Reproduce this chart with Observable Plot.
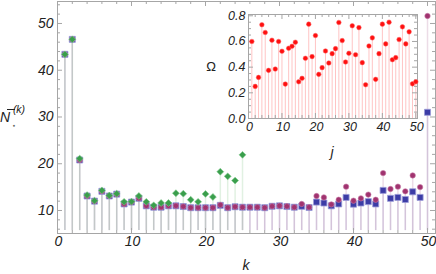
<!DOCTYPE html>
<html><head><meta charset="utf-8">
<script src="https://cdn.jsdelivr.net/npm/d3@7"></script>
<script src="https://cdn.jsdelivr.net/npm/@observablehq/plot@0.6"></script>
<style>
body{margin:0;background:#fff;}
#wrap{position:relative;width:436px;height:274px;}
#wrap svg{position:absolute;left:0;top:0;}
</style></head><body><div id="wrap"></div>
<script>
// ---- data ----
const kValues = d3.range(1, 51);
const blueValues = [43.4,46.6,20.8,13.1,12.0,14.1,13.1,13.5,11.4,11.8,12.6,11.0,10.7,10.7,11.0,11.0,10.85,10.6,10.6,10.6,10.6,11.1,10.6,10.8,10.7,10.7,10.7,10.6,10.9,11.0,10.85,10.7,10.9,10.64,11.8,11.6,11.0,11.4,12.8,11.35,11.6,11.9,11.4,14.3,12.6,12.8,12.35,14.0,12.8,31.0];
const purpleValues = [43.4,46.6,20.8,13.1,12.0,14.1,13.1,13.5,11.4,11.8,12.6,11.0,10.7,10.7,11.0,11.0,10.85,10.6,10.6,10.6,10.6,11.2,10.6,10.8,10.7,10.7,10.7,10.6,10.9,11.0,10.9,10.7,11.4,10.7,13.1,12.8,11.3,12.3,15.1,12.1,12.6,13.4,12.3,18.0,14.6,15.1,14.1,17.5,15.0,51.6];
const greenValues = [43.4,46.6,21.1,13.3,12.1,14.3,13.2,13.6,11.85,11.9,13.1,11.85,11.1,11.6,11.6,13.7,13.6,12.3,11.85,13.55,12.9,18.3,17.3,16.4,21.9];
const jValues = d3.range(1, 51);
const omegaValues = [0.60,0.25,0.32,0.73,0.67,0.375,0.61,0.385,0.60,0.524,
  0.268,0.547,0.563,0.594,0.286,0.313,0.469,0.735,0.482,0.646,
  0.344,0.396,0.526,0.432,0.505,0.544,0.748,0.607,0.44,0.508,
  0.722,0.497,0.708,0.435,0.263,0.565,0.628,0.305,0.505,0.735,
  0.581,0.75,0.458,0.474,0.615,0.714,0.581,0.675,0.27,0.286];
const mainXTicks = [0,10,20,30,40,50];
const mainYTicks = [10,20,30,40,50];
const insetXTicks = [0,10,20,30,40,50];
const insetYTicks = [0,0.2,0.4,0.6,0.8];

// ---- tables ----
const blueData = kValues.map((k,i)=>({k, v: blueValues[i]}));
const purpleData = kValues.map((k,i)=>({k, v: purpleValues[i]}));
const greenData = greenValues.map((v,i)=>({k: kValues[i], v}));
const omegaData = jValues.map((j,i)=>({j, o: omegaValues[i]}));

const FONT = "Liberation Sans, Arial, sans-serif";
const frameColor = "#a6a6a6";
const yMin = 5.08, yMax = 54.7, xMax = 51.08, base = 5.7;
const uy = (yMax - yMin) / 232, ux = xMax / 378; // data units per px

const xMinor = d3.range(0, 52, 2), yMinor = d3.range(6, 55, 2);
function frameTicks(xs, ys, xMaj, yMaj, x0, x1, y0, y1, ux, uy) {
  const L = 5, S = 3;
  const len = (maj, v) => maj.some(m => Math.abs(m - v) < 1e-9) ? L : S;
  return [
    Plot.ruleX(xs, {x: d=>d, y1: y0, y2: d=>y0 + len(xMaj,d)*uy, stroke: frameColor}),
    Plot.ruleX(xs, {x: d=>d, y1: y1, y2: d=>y1 - len(xMaj,d)*uy, stroke: frameColor}),
    Plot.ruleY(ys, {y: d=>d, x1: x0, x2: d=>x0 + len(yMaj,d)*ux, stroke: frameColor}),
    Plot.ruleY(ys, {y: d=>d, x1: x1, x2: d=>x1 - len(yMaj,d)*ux, stroke: frameColor})
  ];
}

const main = Plot.plot({
  width: 436, height: 274,
  marginLeft: 57, marginRight: 1, marginTop: 1, marginBottom: 41,
  x: {domain: [0, xMax]},
  y: {domain: [yMin, yMax]},
  style: {background: "transparent", overflow: "visible"},
  marks: [
    Plot.ruleX(blueData, {x: "k", y1: base, y2: "v", stroke: "#8e8ec4", strokeOpacity: 0.3, strokeWidth: 1.5}),
    Plot.ruleX(purpleData, {x: "k", y1: base, y2: "v", stroke: "#c08ab0", strokeOpacity: 0.3, strokeWidth: 1.5}),
    Plot.ruleX(greenData, {x: "k", y1: base, y2: "v", stroke: "#9ad0a0", strokeOpacity: 0.3, strokeWidth: 1.5}),
    Plot.frame({stroke: frameColor}),
    ...frameTicks(xMinor, yMinor, mainXTicks, mainYTicks, 0, xMax, yMin, yMax, ux, uy),
    Plot.axisX({ticks: mainXTicks, tickSize: 0, tickPadding: 3, dx: 1, label: null,
      fontSize: 14, fontStyle: "italic", fontFamily: FONT, color: "#222"}),
    Plot.axisY({ticks: mainYTicks, tickSize: 0, tickPadding: 4, label: null,
      fontSize: 14, fontStyle: "italic", fontFamily: FONT, color: "#222"}),
    Plot.dot(blueData, {x: "k", y: "v", symbol: "square", r: 3.4, fill: "#3c3ca6", stroke: "#9a9ad8", strokeWidth: 0.8}),
    Plot.dot(purpleData, {x: "k", y: "v", symbol: "circle", r: 2.7, fill: "#a0336f", stroke: "#c77aa6", strokeWidth: 0.6}),
    Plot.dot(greenData, {x: "k", y: "v", symbol: "diamond2", r: 3.1, fill: "#3a9e4c", stroke: "#7cc88a", strokeWidth: 0.6})
  ]
});

const inset = Plot.plot({
  width: 436, height: 160,
  marginLeft: 248, marginRight: 19, marginTop: 14, marginBottom: 42,
  x: {domain: [0, 50.5]},
  y: {domain: [0, 0.81]},
  style: {background: "transparent", overflow: "visible"},
  marks: [
    Plot.ruleX(omegaData, {x: "j", y1: 0, y2: "o", stroke: "#ffc4c4", strokeWidth: 1}),
    Plot.frame({stroke: frameColor}),
    ...frameTicks(d3.range(0, 51, 2), d3.range(0, 0.81, 0.05), insetXTicks, insetYTicks, 0, 50.5, 0, 0.81, 50.5/169, 0.81/104),
    Plot.axisX({ticks: insetXTicks, tickSize: 0, tickPadding: 4, dx: 1, label: null,
      fontSize: 12.5, fontStyle: "italic", fontFamily: FONT, color: "#222"}),
    Plot.axisY({ticks: insetYTicks, tickSize: 0, tickPadding: 3, label: null, tickFormat: d3.format(".1f"),
      fontSize: 12.5, fontStyle: "italic", fontFamily: FONT, color: "#222"}),
    Plot.dot(omegaData, {x: "j", y: "o", r: 2.3, fill: "#ff1010", stroke: "#ff6060", strokeWidth: 0.5})
  ]
});

const wrap = document.getElementById("wrap");
wrap.appendChild(main);
wrap.appendChild(inset);

// axis titles
const s = d3.select(main);
s.append("text").attr("x", 246).attr("y", 270).attr("text-anchor", "middle")
  .attr("font-family", FONT).attr("font-size", 14).attr("font-style", "italic").attr("fill", "#222").text("k");
s.append("line").attr("x1", 7).attr("x2", 15).attr("y1", 109.5).attr("y2", 109.5)
  .attr("stroke", "#222").attr("stroke-width", 1);
s.append("text").attr("x", 5).attr("y", 122).attr("font-family", FONT).attr("fill", "#222")
  .attr("font-size", 14).attr("font-style", "italic").text("N");
s.append("text").attr("x", 14).attr("y", 128).attr("font-family", "DejaVu Sans").attr("font-size", 7).attr("fill", "#222").text("⋆");
s.append("text").attr("x", 19).attr("y", 113).attr("font-family", FONT).attr("font-size", 10.5)
  .attr("font-style", "italic").attr("fill", "#222").text("(k)");
const si = d3.select(inset);
si.append("text").attr("x", 211).attr("y", 71).attr("text-anchor", "middle")
  .attr("font-family", FONT).attr("font-size", 13).attr("fill", "#222").text("Ω");
si.append("text").attr("x", 332).attr("y", 157).attr("text-anchor", "middle")
  .attr("font-family", FONT).attr("font-size", 14).attr("font-style", "italic").attr("fill", "#222").text("j");
</script></body></html>
